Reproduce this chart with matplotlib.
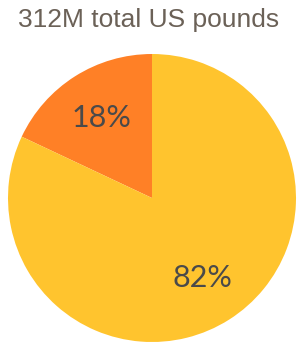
import matplotlib
matplotlib.use("Agg")
import matplotlib.pyplot as plt

labels = ["Other", "Main"]
shares = [18, 82]
colors = ["#FF8026", "#FFC42E"]
title = "312M total US pounds"

fig = plt.figure(figsize=(2.97, 3.46), dpi=100)
ax = fig.add_axes([8/297, 4/346, 288/297, 288/346])
wedges, texts, autotexts = ax.pie(
    shares, colors=colors, startangle=90, counterclock=True,
    autopct=lambda p: f"{p:.0f}%", pctdistance=0.66,
    wedgeprops=dict(linewidth=0),
    textprops=dict(fontsize=22, color="#4a4a4a", family="Lato", fontweight="normal"),
)
ax.set_xlim(-1, 1)
ax.set_ylim(-1, 1)
ax.set_aspect("equal")
fig.text(0.5, 1 - 20/346, title, ha="center", va="center",
         fontsize=19, color="#6b6157", family="Liberation Sans")
fig.savefig("out.png", dpi=100)
